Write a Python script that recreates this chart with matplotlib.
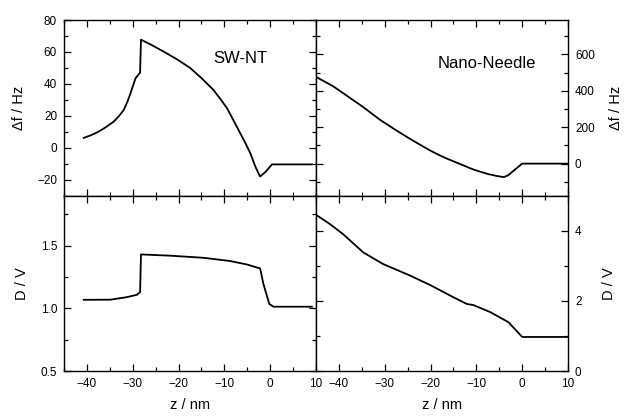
import matplotlib
matplotlib.use("Agg")
import matplotlib.pyplot as plt
from matplotlib.ticker import MultipleLocator

plt.rcParams['font.family'] = ['Liberation Sans', 'DejaVu Sans']

# SW-NT: frequency shift
swnt_z = [-40.7, -39.2, -37.8, -36.0, -34.2, -33.0, -32.0, -31.2, -30.5, -29.4,
          -28.4, -28.2, -25.8, -23.3, -20.3, -17.4, -14.9, -12.4, -10.9, -9.4,
          -8.0, -6.5, -5.4, -4.3, -3.2, -2.2, -1.1, 0.4, 9.1]
swnt_df = [6.1, 7.7, 9.5, 12.6, 16.2, 19.8, 23.5, 28.5, 34.0, 43.5,
           47.0, 67.7, 64.2, 60.3, 55.3, 49.8, 43.3, 36.2, 30.6, 24.6,
           17.0, 8.8, 2.8, -3.8, -12.2, -18.1, -15.4, -10.5, -10.5]
# SW-NT: deflection
swnt_dz = [-40.7, -34.9, -31.3, -29.1, -28.4, -28.2, -21.8, -14.5, -8.7,
           -5.1, -2.2, -1.5, -0.2, 0.7, 9.1]
swnt_d = [1.068, 1.069, 1.089, 1.108, 1.129, 1.43, 1.42, 1.403, 1.377,
          1.35, 1.318, 1.197, 1.035, 1.013, 1.013]

# Nano-Needle: frequency shift
nn_z = [-45.0, -41.3, -38.0, -34.7, -31.0, -27.4, -23.7, -20.1, -17.9, -16.1,
        -13.5, -10.6, -7.5, -5.5, -4.0, -3.0, -1.5, 0.0, 10.0]
nn_df = [476, 425, 368, 310, 240, 181, 124, 72, 44, 24,
         -3, -33, -57, -68, -74, -63, -31, 0, 0]
# Nano-Needle: deflection
nn_dz = [-45.0, -42.0, -39.1, -34.7, -30.4, -24.5, -20.1, -15.0, -12.1,
         -10.7, -7.0, -3.0, 0.0, 10.0]
nn_d = [4.45, 4.19, 3.90, 3.38, 3.05, 2.72, 2.45, 2.10, 1.91,
        1.88, 1.68, 1.39, 0.97, 0.97]

fig = plt.figure(figsize=(6.24, 4.17), dpi=100)
gs = fig.add_gridspec(2, 2, left=0.1026, right=0.9103, top=0.952, bottom=0.1103,
                      hspace=0, wspace=0)
ax1 = fig.add_subplot(gs[0, 0])
ax2 = fig.add_subplot(gs[0, 1])
ax3 = fig.add_subplot(gs[1, 0])
ax4 = fig.add_subplot(gs[1, 1])

lw = 1.3
ax1.plot(swnt_z, swnt_df, color='black', lw=lw)
ax2.plot(nn_z, nn_df, color='black', lw=lw)
ax3.plot(swnt_dz, swnt_d, color='black', lw=lw)
ax4.plot(nn_dz, nn_d, color='black', lw=lw)

for ax in (ax1, ax2, ax3, ax4):
    ax.set_xlim(-45, 10)
    ax.xaxis.set_major_locator(MultipleLocator(10))
    ax.xaxis.set_minor_locator(MultipleLocator(5))
    ax.tick_params(which='both', direction='in', top=True, bottom=True,
                   left=True, right=True, labelsize=8.5, pad=5)
    ax.tick_params(which='major', length=5, width=0.9)
    ax.tick_params(which='minor', length=3, width=0.9)
    for s in ax.spines.values():
        s.set_linewidth(1.0)

ax1.set_ylim(-30, 80)
ax1.yaxis.set_major_locator(MultipleLocator(20))
ax1.yaxis.set_minor_locator(MultipleLocator(10))
ax1.tick_params(labelbottom=False)
ax1.set_ylabel('Δf / Hz', fontsize=10.5, labelpad=8)
ax1.text(-12.4, 56, 'SW-NT', fontsize=12, va='center')

ax2.set_ylim(-175, 788)
ax2.yaxis.set_major_locator(MultipleLocator(200))
ax2.yaxis.set_minor_locator(MultipleLocator(100))
ax2.tick_params(labelbottom=False, labelleft=False, labelright=True)
ax2.yaxis.set_label_position('right')
ax2.set_ylabel('Δf / Hz', fontsize=10.5, labelpad=10)
ax2.text(-18.4, 549, 'Nano-Needle', fontsize=12, va='center')

ax3.set_ylim(0.5, 1.9)
ax3.yaxis.set_major_locator(MultipleLocator(0.5))
ax3.yaxis.set_minor_locator(MultipleLocator(0.25))
ax3.set_ylabel('D / V', fontsize=10.5, labelpad=8)
ax3.set_xlabel('z / nm', fontsize=10.5, labelpad=6)

ax4.set_ylim(0, 5)
ax4.yaxis.set_major_locator(MultipleLocator(2))
ax4.yaxis.set_minor_locator(MultipleLocator(1))
ax4.tick_params(labelleft=False, labelright=True)
ax4.yaxis.set_label_position('right')
ax4.set_ylabel('D / V', fontsize=10.5, labelpad=15)
ax4.set_xlabel('z / nm', fontsize=10.5, labelpad=6)

fig.savefig('out.png', dpi=100)
